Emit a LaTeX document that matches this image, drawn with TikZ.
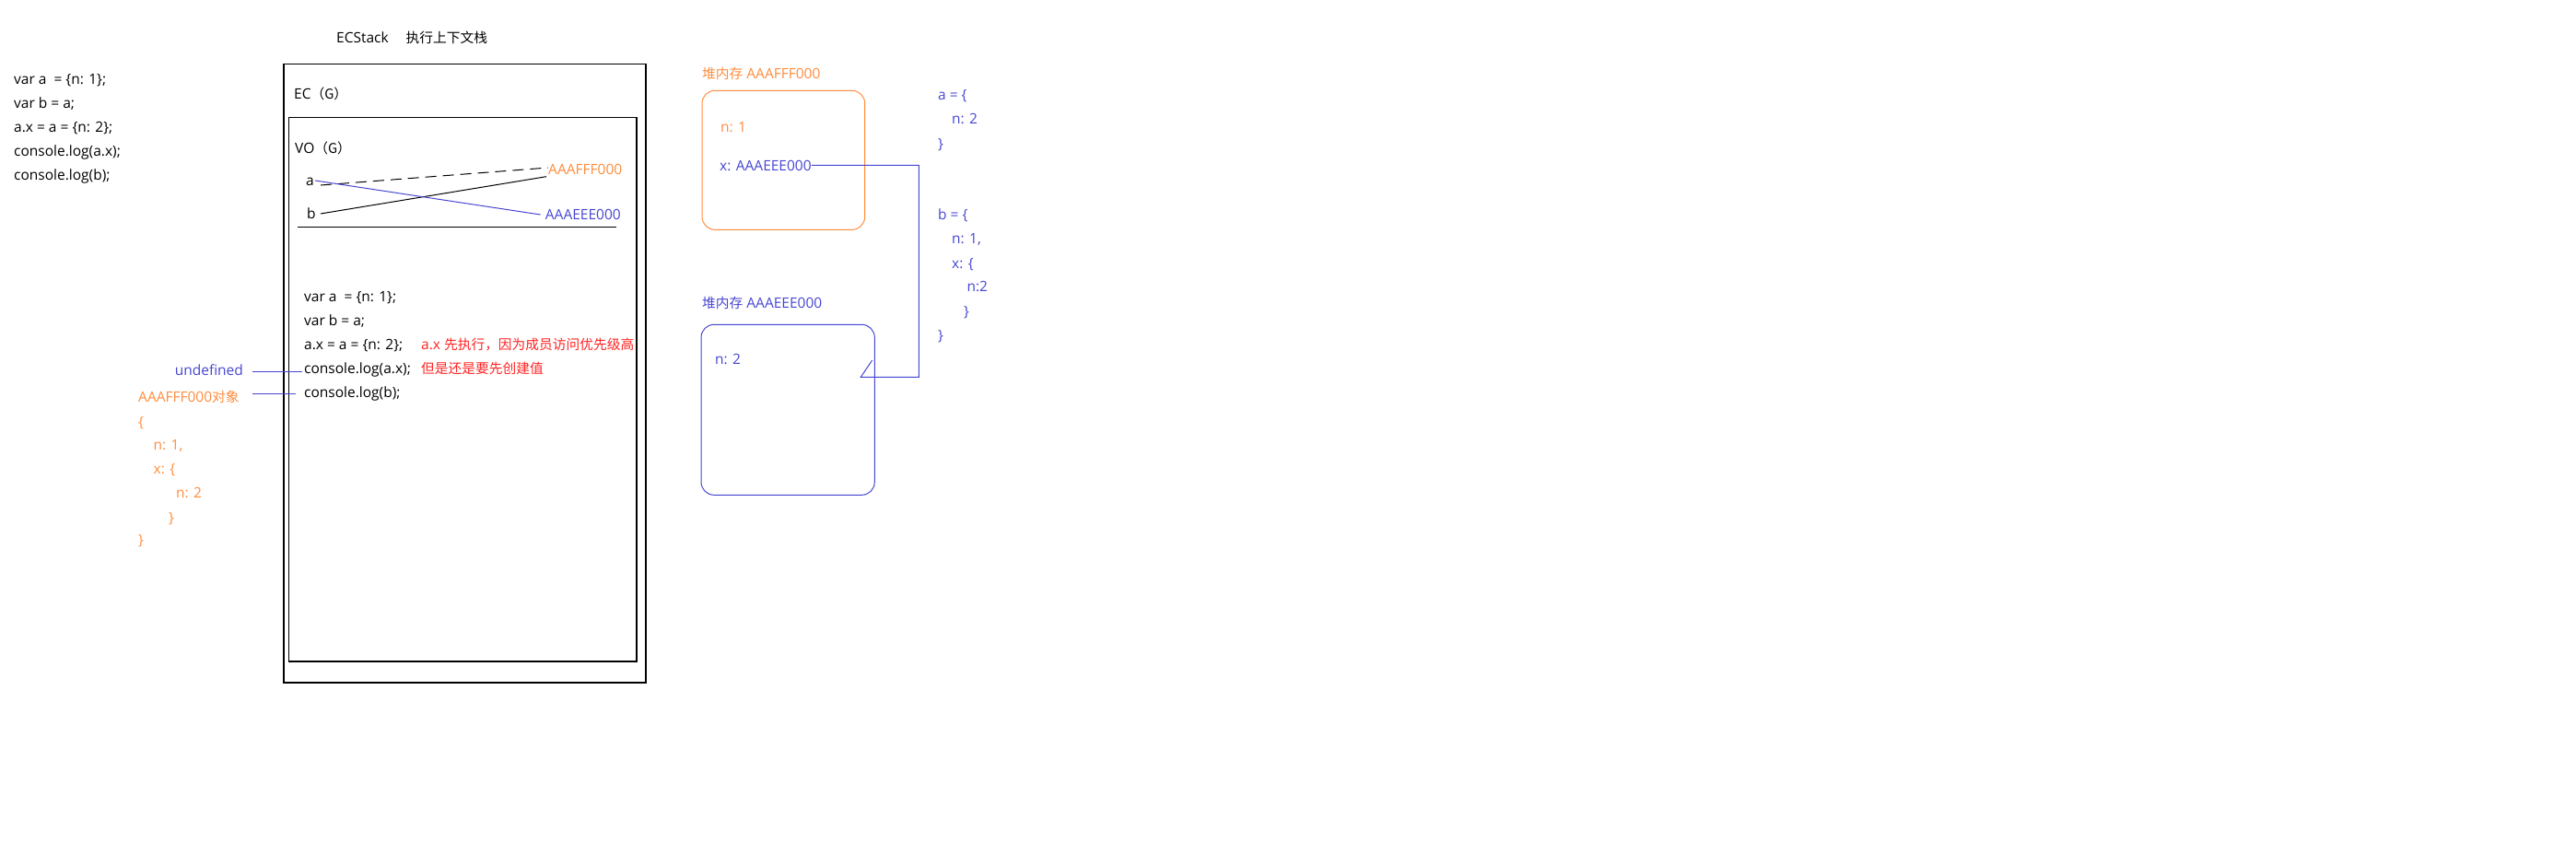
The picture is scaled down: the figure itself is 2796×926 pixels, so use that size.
\documentclass[tikz,border=0pt]{standalone}
\usepackage{fontspec}
\setmainfont{Open Sans}
\newfontfamily\cjk{Noto Sans CJK SC}[Scale=0.95]
\usepackage{xcolor}
\usepackage{tikz}
\usetikzlibrary{calc}
\usetikzlibrary{positioning}
\definecolor{heaporange}{RGB}{255,140,60}
\definecolor{heapblue}{RGB}{70,70,210}
\definecolor{notered}{RGB}{255,35,35}
\tikzset{
	codetext/.style={anchor=west, inner sep=0pt, text height=11.5pt, text depth=0.5pt, font=\fontsize{15.5}{18}\selectfont},
	boxline/.style={draw=black, line width=1.3pt},
	linkline/.style={line width=1pt},
}

\begin{document}
\begin{tikzpicture}[x=1pt, y=-1pt]
			\useasboundingbox (0,0) rectangle (2796,926);
			\node[codetext] (title) at (365,40.7) {ECStack\hspace{19pt}{\cjk 执行上下文栈}};
			% source code
			\node[codetext] (srcA) at (15,86) {var a\ \ = \{n: 1\};};
			\node[codetext] (srcB) at (15,112) {var b = a;};
			\node[codetext] (srcC) at (15,138) {a.x = a = \{n: 2\};};
			\node[codetext] (srcD) at (15,164.3) {console.log(a.x);};
			\node[codetext] (srcE) at (15,190) {console.log(b);};
			% execution context stack
			\draw[boxline] (308,69.5) rectangle (701,741);
			\draw[boxline] (313.5,127.5) rectangle (691,718);
			\node[codetext] (ec) at (319,101.7) {EC{\cjk （G）}};
			\node[codetext] (vo) at (320,161) {VO{\cjk （G）}};
			\node[codetext] (varA) at (332,196) {a};
			\node[codetext] (varB) at (333,232) {b};
			\node[codetext, text=heaporange] (addrF) at (595,184) {AAAFFF000};
			\node[codetext, text=heapblue] (addrE) at (591.7,233) {AAAEEE000};
			\draw[linkline, dash pattern=on 12pt off 7pt] ([xshift=7pt,yshift=-5pt]varA.east) -- ([yshift=2pt]addrF.west);
			\draw[linkline] ([xshift=5pt]varB.east) -- ([xshift=-2pt,yshift=-7.7pt]addrF.west);
			\draw[linkline, heapblue] ([xshift=1pt]varA.east) -- ([xshift=-5pt]addrE.west);
			\draw[line width=1.2pt] (323,246.3) -- (669,246.3);
			\node[codetext] (runA) at (330,322) {var a\ \ = \{n: 1\};};
			\node[codetext] (runB) at (330,348) {var b = a;};
			\node[codetext] (runC) at (330,374) {a.x = a = \{n: 2\};};
			\node[codetext] (runD) at (330,400) {console.log(a.x);};
			\node[codetext] (runE) at (330,426) {console.log(b);};
			\node[codetext, text=notered] (noteA) at (457,374) {a.x {\cjk 先执行，因为成员访问优先级高}};
			\node[codetext, text=notered] (noteB) at (457,400) {\cjk 但是还是要先创建值};
			% printed results
			\node[codetext, text=heapblue] (outA) at (189.6,401.7) {undefined};
			\draw[linkline, heapblue] ([xshift=10pt,yshift=-1.6pt]outA.east) -- ([xshift=-2pt,yshift=-3.3pt]runD.west);
			\node[codetext, text=heaporange] (outB) at (150,430.7) {AAAFFF000{\cjk 对象}};
			\draw[linkline, heapblue] ([xshift=14pt,yshift=3.7pt]outB.east) -- ([xshift=-9pt,yshift=-1pt]runE.west);
			\node[codetext, text=heaporange] (objA) at (150,458) {\{};
			\node[codetext, text=heaporange] (objB) at (166.5,483) {n: 1,};
			\node[codetext, text=heaporange] (objC) at (166.5,509) {x: \{};
			\node[codetext, text=heaporange] (objD) at (191,535) {n: 2};
			\node[codetext, text=heaporange] (objE) at (183,562) {\}};
			\node[codetext, text=heaporange] (objF) at (150,586) {\}};
			% heap
			\node[codetext, text=heaporange] (heapF) at (762,80) {{\cjk 堆内存} AAAFFF000};
			\draw[linkline, heaporange, rounded corners=14pt] (762,98.3) rectangle (938.7,249.3);
			\node[codetext, text=heaporange] (fieldN) at (782,138) {n: 1};
			\node[codetext, text=heapblue] (fieldX) at (781,180) {x: AAAEEE000};
			\node[codetext, text=heapblue] (heapE) at (762,329) {{\cjk 堆内存} AAAEEE000};
			\draw[linkline, heapblue, rounded corners=14pt] (761,352.3) rectangle (949.3,537.3);
			\node[codetext, text=heapblue] (fieldM) at (776,390) {n: 2};
			\coordinate (rail) at (997.3,409.3);
			\coordinate (bend) at (934.3,409.3);
			\coordinate (tipend) at (946.7,391);
			\draw[linkline, heapblue] ([yshift=0.7pt]fieldX.east) -| (rail) -- (bend) -- (tipend);
			% values of a and b
			\node[codetext, text=heapblue] (valA) at (1018,103.3) {a = \{};
			\node[codetext, text=heapblue] (valB) at (1033,129) {n: 2};
			\node[codetext, text=heapblue] (valC) at (1018,156) {\}};
			\node[codetext, text=heapblue] (valD) at (1018,232.7) {b = \{};
			\node[codetext, text=heapblue] (valE) at (1033,259.3) {n: 1,};
			\node[codetext, text=heapblue] (valF) at (1033,285.7) {x: \{};
			\node[codetext, text=heapblue] (valG) at (1049.3,311) {n:2};
			\node[codetext, text=heapblue] (valH) at (1046,337.7) {\}};
			\node[codetext, text=heapblue] (valI) at (1018,364) {\}};
		\end{tikzpicture}
\end{document}
